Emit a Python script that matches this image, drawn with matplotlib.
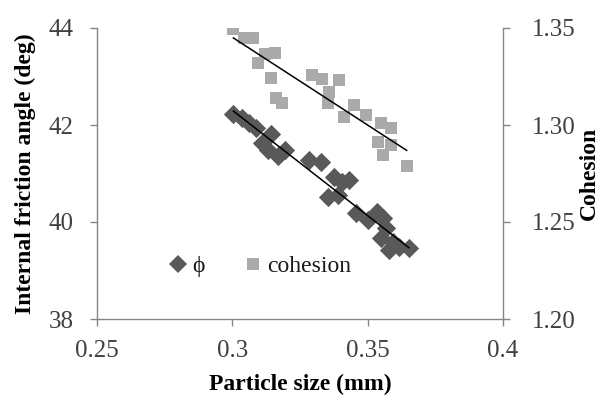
import numpy as np
import matplotlib
matplotlib.use("Agg")
import matplotlib.pyplot as plt
from matplotlib.lines import Line2D

plt.rcParams['font.family'] = ['Liberation Serif', 'DejaVu Serif']

# Internal friction angle (phi) data
phi_x = [0.3004, 0.3037, 0.3063, 0.3089, 0.3144, 0.3111, 0.3133, 0.3167, 0.3196,
         0.3285, 0.3326, 0.3374, 0.3404, 0.3430, 0.3389, 0.3352, 0.3456, 0.3500,
         0.3533, 0.3556, 0.3567, 0.3548, 0.3593, 0.3615, 0.3652, 0.3578]
phi_y = [42.23, 42.14, 42.04, 41.94, 41.81, 41.63, 41.48, 41.36, 41.48,
         41.28, 41.24, 40.93, 40.82, 40.87, 40.56, 40.52, 40.19, 40.04,
         40.21, 40.08, 39.88, 39.67, 39.59, 39.48, 39.46, 39.42]

# Cohesion data
coh_x = [0.3004, 0.3044, 0.3078, 0.3122, 0.3159, 0.3093, 0.3144, 0.3163, 0.3185,
         0.3296, 0.3333, 0.3393, 0.3356, 0.3352, 0.3448, 0.3493, 0.3411, 0.3548,
         0.3585, 0.3537, 0.3585, 0.3556, 0.3644]
coh_y = [1.3495, 1.3448, 1.3448, 1.3366, 1.3371, 1.3320, 1.3242, 1.3139, 1.3113,
         1.3258, 1.3237, 1.3232, 1.3170, 1.3113, 1.3103, 1.3052, 1.3041, 1.3010,
         1.2985, 1.2912, 1.2897, 1.2845, 1.2789]

x_ticks = [0.25, 0.3, 0.35, 0.4]
x_tick_labels = ['0.25', '0.3', '0.35', '0.4']
phi_ticks = [38, 40, 42, 44]
coh_ticks = [1.20, 1.25, 1.30, 1.35]
coh_tick_labels = ['1.20', '1.25', '1.30', '1.35']

fig = plt.figure(figsize=(6.03, 4.05), dpi=100)
ax = fig.add_axes([97/603, 1-319/405, (503-97)/603, (319-28)/405])
ax2 = ax.twinx()

dark = '#595959'
light = '#aaaaaa'
spine_c = '#868686'
tick_c = '#404040'

ax2.scatter(coh_x, coh_y, marker='s', s=9.0**2, color=light, linewidths=0, zorder=2)
ax.scatter(phi_x, phi_y, marker='D', s=9.8**2, color=dark, linewidths=0, zorder=2)

# linear trend lines
p = np.polyfit(phi_x, phi_y, 1)
xs = np.array([min(phi_x), max(phi_x)])
ax.plot(xs, np.polyval(p, xs), color='black', lw=1.1, zorder=3)
q = np.polyfit(coh_x, coh_y, 1)
xs2 = np.array([min(coh_x), max(coh_x)])
ax2.plot(xs2, np.polyval(q, xs2), color='black', lw=1.1, zorder=3)

ax.set_xlim(0.25, 0.4)
ax.set_ylim(38, 44)
ax2.set_ylim(1.20, 1.35)
ax.set_xticks(x_ticks)
ax.set_xticklabels(x_tick_labels)
ax.set_yticks(phi_ticks)
ax2.set_yticks(coh_ticks)
ax2.set_yticklabels(coh_tick_labels)

for a in (ax, ax2):
    a.spines['top'].set_visible(False)
    for s in a.spines.values():
        s.set_color(spine_c)
        s.set_linewidth(1.0)
    a.tick_params(colors=spine_c, labelcolor=tick_c, labelsize=18, length=5, width=1.0, direction='out')
ax.spines['right'].set_visible(False)
ax2.spines['left'].set_visible(False)
ax2.spines['bottom'].set_visible(False)
ax.tick_params(axis='x', pad=10)
ax.tick_params(axis='y', pad=12)
ax2.tick_params(axis='y', pad=16)

ax.set_xlabel('Particle size (mm)', fontsize=17, fontweight='bold', labelpad=9)
ax.set_ylabel('Internal friction angle (deg)', fontsize=17, fontweight='bold', labelpad=9)
ax2.set_ylabel('Cohesion', fontsize=17, fontweight='bold', labelpad=2)

handles = [Line2D([], [], marker='D', ls='none', color=dark, markersize=9.5, markeredgewidth=0),
           Line2D([], [], marker='s', ls='none', color=light, markersize=8.5, markeredgewidth=0)]
leg = ax.legend(handles, ['ϕ', 'cohesion'], ncol=2, frameon=False, loc='lower left',
                bbox_to_anchor=(0.13, 0.07), fontsize=17, handlelength=0.6,
                handletextpad=0.3, columnspacing=1.75)
for t in leg.get_texts():
    t.set_color('#1a1a1a')

fig.savefig('out.png', dpi=100, facecolor='white')
